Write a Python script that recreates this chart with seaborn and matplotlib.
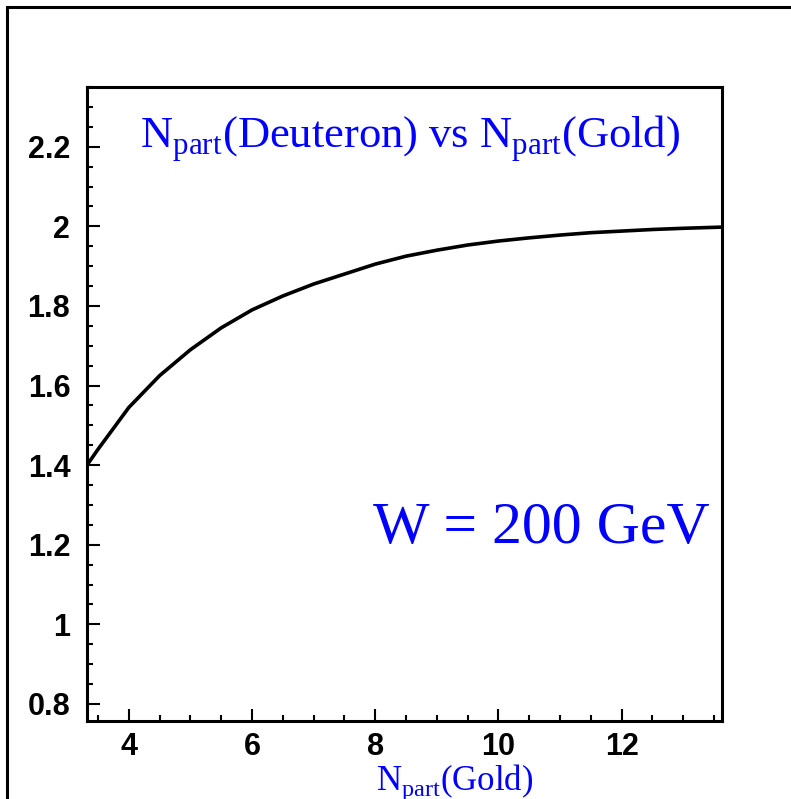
import numpy as np
import pandas as pd
import matplotlib
matplotlib.use('Agg')
import matplotlib.pyplot as plt
import seaborn as sns
from matplotlib.patches import Rectangle
from matplotlib.ticker import MultipleLocator

# 曲线数据
npart_gold = [3.32, 3.5, 4.0, 4.5, 5.0, 5.5, 6.0, 6.5, 7.0, 7.5, 8.0, 8.5, 9.0,
              9.5, 10.0, 10.5, 11.0, 11.5, 12.0, 12.5, 13.0, 13.63]
npart_deut = [1.40, 1.44, 1.545, 1.625, 1.69, 1.745, 1.79, 1.825, 1.855, 1.88,
              1.905, 1.925, 1.94, 1.953, 1.963, 1.971, 1.978, 1.984, 1.988,
              1.992, 1.995, 1.998]
x_ticks = [4, 6, 8, 10, 12]
y_ticks = [0.8, 1.0, 1.2, 1.4, 1.6, 1.8, 2.0, 2.2]
y_labels = ['0.8', '1', '1.2', '1.4', '1.6', '1.8', '2', '2.2']

sns.set_theme(style='white')
plt.rcParams['font.family'] = ['Liberation Sans', 'DejaVu Sans']
plt.rcParams['mathtext.fontset'] = 'custom'
plt.rcParams['mathtext.rm'] = 'Liberation Serif'

data = pd.DataFrame({'gold': npart_gold, 'deut': npart_deut})

fig = plt.figure(figsize=(7.91, 7.99), dpi=100)
ax = fig.add_axes([0.110, 0.0976, 0.8028, 0.7935])

sns.lineplot(x='gold', y='deut', data=data, color='black', linewidth=2.6, ax=ax)

ax.set_xlim(3.32, 13.63)
ax.set_ylim(0.757, 2.35)
ax.set_xticks(x_ticks)
ax.set_xticklabels([str(v) for v in x_ticks])
ax.set_yticks(y_ticks)
ax.set_yticklabels(y_labels)
ax.xaxis.set_minor_locator(MultipleLocator(0.5))
ax.yaxis.set_minor_locator(MultipleLocator(0.05))
ax.tick_params(which='both', bottom=True, left=True, top=False, right=False)
ax.tick_params(which='major', direction='in', length=9, width=1.5, color='black',
               labelsize=22, labelcolor='black', pad=8)
ax.tick_params(which='minor', direction='in', length=4.5, width=1.5, color='black')
ax.tick_params(axis='y', pad=12)
for lab in ax.get_xticklabels() + ax.get_yticklabels():
    lab.set_fontweight('bold')
for s in ax.spines.values():
    s.set_linewidth(2.2)
    s.set_color('black')
ax.set_xlabel('')
ax.set_ylabel('')

ax.text(0.509, 0.904, r'N$_{\rm part}$(Deuteron) vs N$_{\rm part}$(Gold)',
        transform=ax.transAxes, ha='center', va='baseline', color='#0000ff',
        fontsize=32, family='Liberation Serif')
ax.text(0.981, 0.281, 'W = 200 GeV', transform=ax.transAxes, ha='right',
        va='baseline', color='#0000ff', fontsize=43, family='Liberation Serif')
fig.text(0.575, 0.011, r'N$_{\rm part}$(Gold)', ha='center', va='baseline',
         color='#0000ff', fontsize=25, family='Liberation Serif')

# 外框
fig.patches.append(Rectangle((7 / 791, -0.1), 1.2, 1 - 7 / 799 + 0.1,
                             transform=fig.transFigure, fill=False,
                             edgecolor='black', linewidth=2.2))

fig.savefig('out.png', dpi=100)
